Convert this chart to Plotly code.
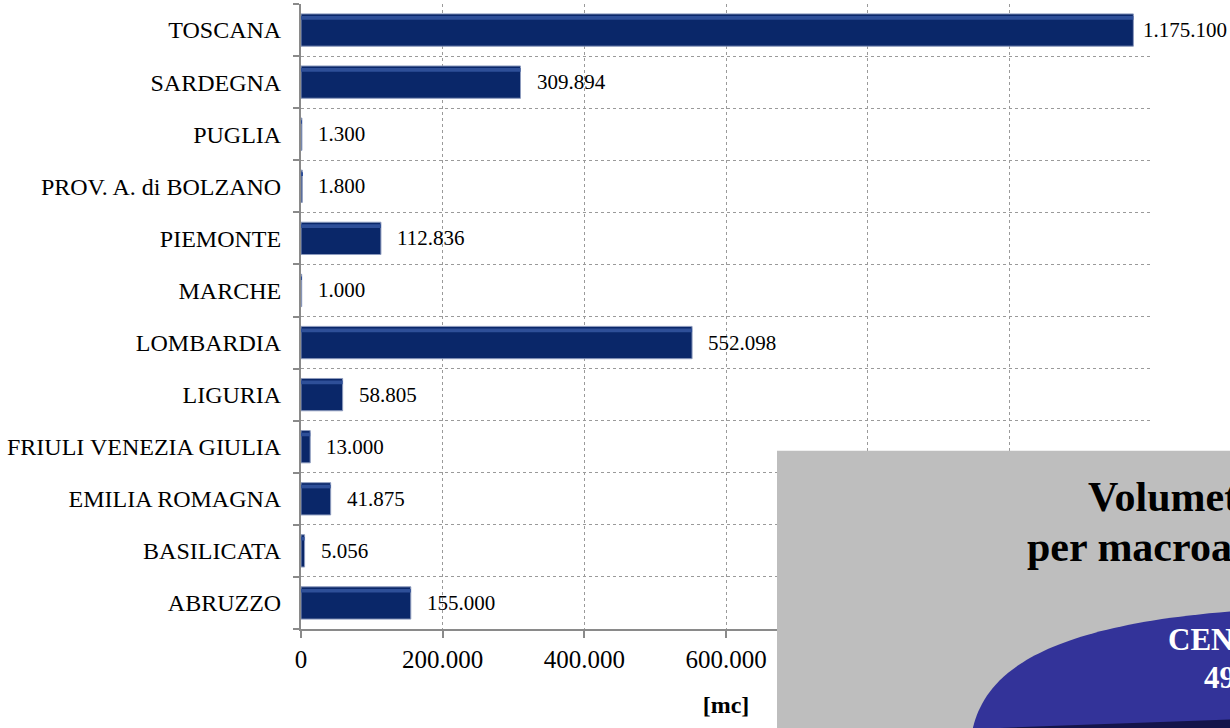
import plotly.graph_objects as go

# Volumi per regione (mc)
regioni = [
    "ABRUZZO", "BASILICATA", "EMILIA ROMAGNA", "FRIULI VENEZIA GIULIA",
    "LIGURIA", "LOMBARDIA", "MARCHE", "PIEMONTE", "PROV. A. di BOLZANO",
    "PUGLIA", "SARDEGNA", "TOSCANA",
]
volumi = [155000, 5056, 41875, 13000, 58805, 552098, 1000, 112836, 1800, 1300, 309894, 1175100]

x_ticks = [0, 200000, 400000, 600000, 800000, 1000000, 1200000]
X_MAX = 1200000

FONT = "Liberation Serif, Times New Roman, serif"

# page geometry (pixels)
W, H = 1230, 728
L, R, T, B = 301, 1151, 4, 629.5


def px(xp):
    return (xp - L) / (R - L)


def py(yp):
    return (B - yp) / (B - T)


def fmt(v):
    return f"{v:,}".replace(",", ".")


fig = go.Figure()

# main bars
fig.add_trace(go.Bar(
    y=regioni, x=volumi, orientation="h",
    marker=dict(color="#0a2769", line=dict(color="#8d9bbd", width=1)),
    width=0.62, hoverinfo="skip",
))
# upper bevel highlight
fig.add_trace(go.Bar(
    y=regioni, x=volumi, orientation="h",
    marker=dict(color="#2e4f98", line=dict(width=0)),
    width=0.07, offset=0.2, hoverinfo="skip",
))

# value labels (pulled closer to the bar when near the page edge)
LABEL_SIZE = 21
for r, v in zip(regioni, volumi):
    txt = fmt(v)
    end_px = L + v / X_MAX * (R - L)
    est_w = (sum(c.isdigit() for c in txt) * 0.5 + txt.count(".") * 0.25) * LABEL_SIZE
    shift = 14 if end_px + 14 + est_w < W - 4 else 8
    fig.add_annotation(
        x=v, y=r, xref="x", yref="y", text=txt, showarrow=False,
        xanchor="left", yanchor="middle", xshift=shift,
        font=dict(family=FONT, size=LABEL_SIZE, color="#000000"),
    )

fig.update_layout(
    width=W, height=H,
    margin=dict(l=L, r=W - R, t=T, b=H - B),
    paper_bgcolor="white", plot_bgcolor="white",
    barmode="overlay", showlegend=False,
    separators=",.",
    font=dict(family=FONT, size=24, color="#000000"),
)

fig.update_xaxes(
    range=[0, X_MAX], tickvals=x_ticks,
    ticktext=[fmt(t) for t in x_ticks],
    showgrid=True, gridcolor="#9a9a9a", gridwidth=1, griddash="dot",
    showline=True, linecolor="#8a8a8a", linewidth=2,
    ticks="outside", ticklen=7, tickcolor="#8a8a8a", tickwidth=2,
    tickfont=dict(family=FONT, size=25), zeroline=False,
    title=dict(text="<b>[mc]</b>", font=dict(family=FONT, size=24), standoff=24),
)
fig.update_yaxes(
    type="category", categoryorder="array", categoryarray=regioni,
    tickson="boundaries",
    showgrid=True, gridcolor="#9a9a9a", gridwidth=1, griddash="dot",
    showline=True, linecolor="#8a8a8a", linewidth=2,
    ticks="outside", ticklen=6, tickcolor="#8a8a8a", tickwidth=2,
    tickfont=dict(family=FONT, size=24), ticklabelstandoff=13,
)

# grey inset panel in the lower right corner
fig.add_shape(
    type="rect", xref="paper", yref="paper", layer="above",
    x0=px(777), x1=px(W + 20), y0=py(451), y1=py(H + 20),
    fillcolor="#bebebe", line=dict(width=0),
)

# blue disc
disc = (
    f"M {px(973)},{py(728)} "
    f"C {px(985)},{py(680)} {px(1030)},{py(628)} {px(1230)},{py(612)} "
    f"L {px(1260)},{py(612)} L {px(1260)},{py(760)} L {px(973)},{py(760)} Z"
)
fig.add_shape(type="path", xref="paper", yref="paper", layer="above",
              path=disc, fillcolor="#333399", line=dict(width=0))
# disc edge (shadow)
edge = (
    f"M {px(990)},{py(729)} L {px(1050)},{py(726.5)} L {px(1230)},{py(720)} "
    f"L {px(1260)},{py(720)} L {px(1260)},{py(760)} L {px(990)},{py(760)} Z"
)
fig.add_shape(type="path", xref="paper", yref="paper", layer="above",
              path=edge, fillcolor="#14144a", line=dict(width=0))

# panel texts
panel_text = [
    ("Volumetrie", 1086, 497, 42, "#000000"),
    ("per macroarea", 1025, 547, 42, "#000000"),
    ("CENTRO", 1166, 640, 31, "#ffffff"),
    ("49", 1202, 678, 31, "#ffffff"),
]
for txt, xp, yp, sz, col in panel_text:
    fig.add_annotation(
        x=px(xp), y=py(yp), xref="paper", yref="paper", text=f"<b>{txt}</b>",
        showarrow=False, xanchor="left", yanchor="middle",
        font=dict(family=FONT, size=sz, color=col),
    )

fig.write_html("out.html")
